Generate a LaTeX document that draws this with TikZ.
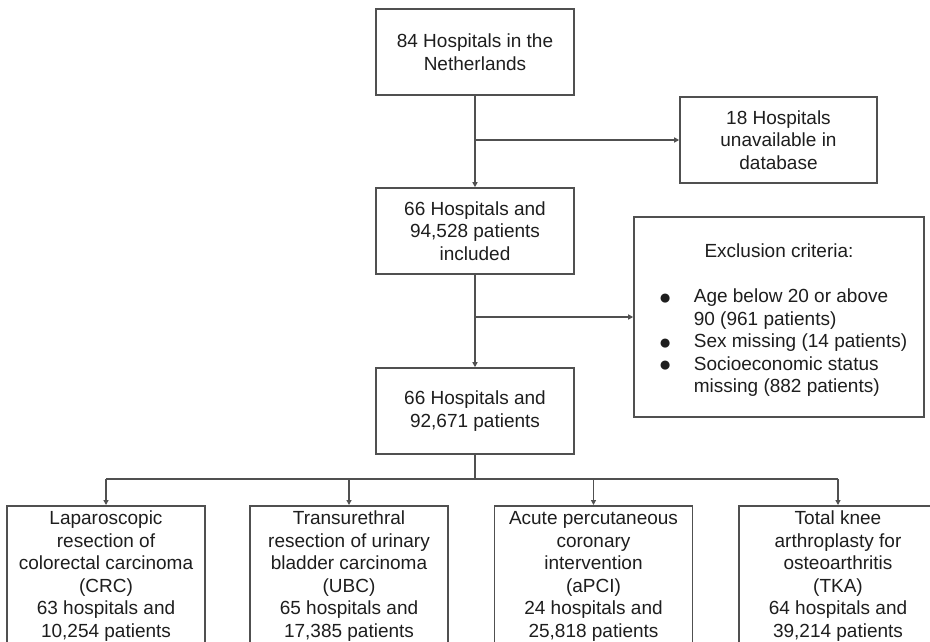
\documentclass[tikz,border=0pt]{standalone}
\usepackage{fontspec}
\setmainfont{Liberation Sans}
\usetikzlibrary{arrows.meta}
\definecolor{linec}{HTML}{505050}
\definecolor{textc}{HTML}{1E1E1E}
\newcommand{\blt}{\raisebox{-1.5pt}{\fontsize{21}{21}\selectfont ●}}
\begin{document}
\begin{tikzpicture}[x=1pt,y=-1pt,
  box/.style={draw=linec, line width=1.6pt, text=textc, align=center, inner sep=0pt,
    font=\fontsize{19}{22.5}\selectfont},
  topbox/.style={box, minimum width=198pt, minimum height=86pt},
  botbox/.style={box, minimum width=198pt, minimum height=141pt, anchor=north},
  conn/.style={draw=linec, line width=1.5pt},
  arr/.style={conn, -{Triangle[length=5pt,width=5pt]}}]
\clip (0,0) rectangle (930,641);
\fill[white] (0,0) rectangle (930,641);

\node[topbox] (h84) at (475,52) {84 Hospitals in the\\Netherlands};
\node[topbox, minimum width=197pt] (h18) at (778.5,140) {18 Hospitals\\unavailable in\\database};
\node[topbox] (h66a) at (475,231) {66 Hospitals and\\94,528 patients\\included};
\node[box, minimum width=290pt, minimum height=200pt] (excl) at (779,317) {%
  \raisebox{-3.5pt}[\height][\depth]{\begin{tabular}{@{}p{35pt}@{}l@{}}
  \multicolumn{2}{@{}c@{\hspace{8pt}}}{Exclusion criteria:}\\
  \\
  \blt & Age below 20 or above\\
      & 90 (961 patients)\\
  \blt & Sex missing (14 patients)\\
  \blt & Socioeconomic status\\
      & missing (882 patients)
  \end{tabular}}\hspace{-8pt}};
\node[topbox] (h66b) at (475,411) {66 Hospitals and\\92,671 patients};

\node[botbox] (crc) at (106,505) {Laparoscopic\\resection of\\colorectal carcinoma\\(CRC)\\63 hospitals and\\10,254 patients};
\node[botbox] (ubc) at (349,505) {Transurethral\\resection of urinary\\bladder carcinoma\\(UBC)\\65 hospitals and\\17,385 patients};
\node[botbox] (apci) at (593.5,505) {Acute percutaneous\\coronary\\intervention\\(aPCI)\\24 hospitals and\\25,818 patients};
\node[botbox] (tka) at (838,505) {Total knee\\arthroplasty for\\osteoarthritis\\(TKA)\\64 hospitals and\\39,214 patients};

\draw[arr] (h84) -- (h66a);
\coordinate (j1) at (h84.south |- h18.west);
\draw[arr] (j1) -- (h18.west);
\draw[arr] (h66a) -- (h66b);
\coordinate (j2) at (h66a.south |- excl.west);
\draw[arr] (j2) -- (excl.west);

\coordinate (bus) at (475,479);
\draw[conn] (h66b.south) -- (bus);
\draw[conn] (crc.north |- bus) -- (tka.north |- bus);
\foreach \n in {crc,ubc,apci,tka}
  \draw[arr] (\n.north |- bus) -- (\n.north);
\end{tikzpicture}
\end{document}
